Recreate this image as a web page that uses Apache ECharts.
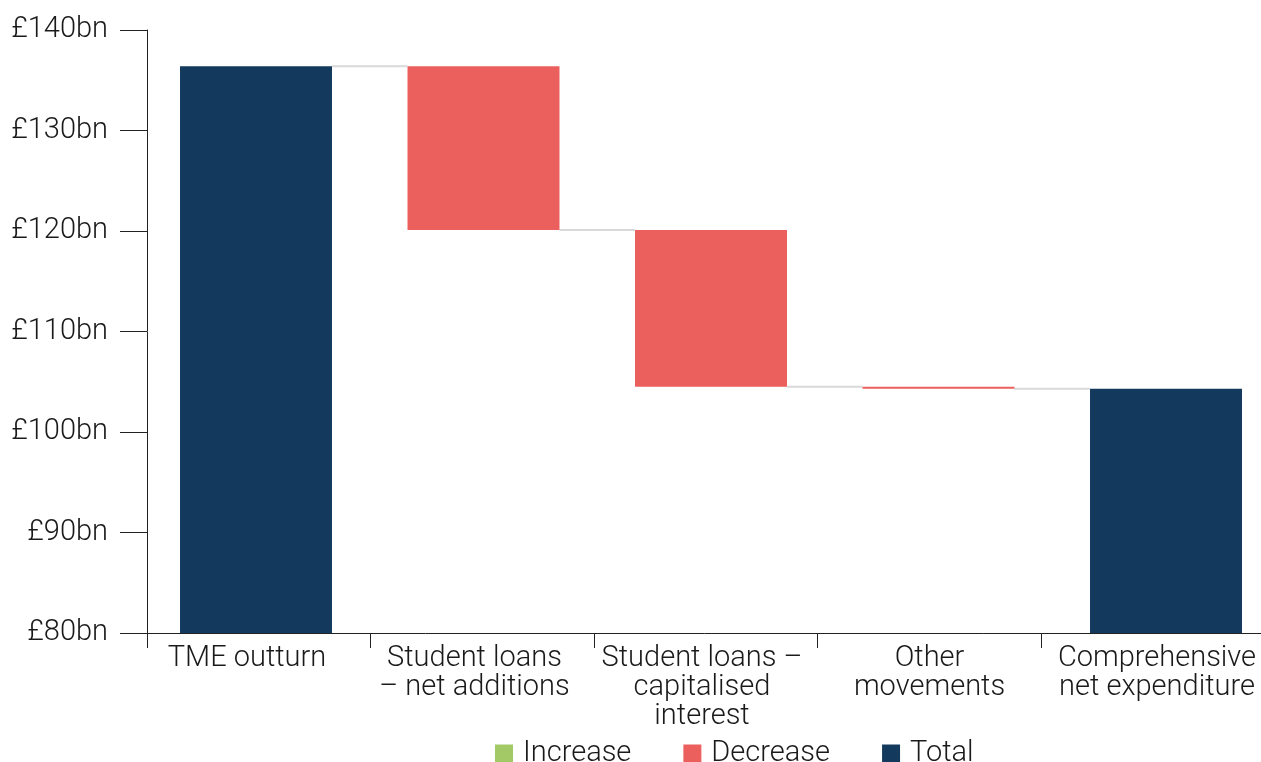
<!DOCTYPE html>
<html>
<head>
<meta charset="utf-8">
<script src="https://cdn.jsdelivr.net/npm/echarts@6/dist/echarts.min.js"></script>
<style>
  html, body { margin: 0; padding: 0; background: #ffffff; }
  #chart { width: 1261px; height: 762px; }
</style>
</head>
<body>
<div id="chart"></div>
<script>
// Reconciliation of Total Managed Expenditure to comprehensive net expenditure (£bn)
const categories = [
  'TME outturn',
  'Student loans\n– net additions',
  'Student loans –\ncapitalised\ninterest',
  'Other\nmovements',
  'Comprehensive\nnet expenditure'
];
// Totals are absolute levels, other entries are changes from the previous level
const amounts = [136.4, -16.3, -15.6, -0.2, 104.3];
const isTotal = [true, false, false, false, true];

const yMin = 80;
const yMax = 140;
const yStep = 10;

const NAVY = '#133a5d';
const RED = '#eb5f5d';
const GREEN = '#a3c866';
const FONT = 'Roboto';
const WEIGHT = 300;
const FS = 29;
const BAR_RATIO = 0.668;

// Stacked pieces of the waterfall: transparent base + visible change / total
const baseData = [], incData = [], decData = [], totData = [], levels = [];
let running = 0;
amounts.forEach((v, i) => {
  if (isTotal[i]) {
    running = v;
    baseData.push('-'); incData.push('-'); decData.push('-'); totData.push(v);
  } else {
    const next = +(running + v).toFixed(4);
    baseData.push(Math.min(running, next));
    if (v >= 0) { incData.push(Math.abs(v)); decData.push('-'); }
    else { decData.push(Math.abs(v)); incData.push('-'); }
    totData.push('-');
    running = next;
  }
  levels.push(running);
});
// Connector levels between consecutive bars
const connectors = levels.slice(0, -1).map((lv, i) => [i, lv]);

const chart = echarts.init(document.getElementById('chart'), null, { renderer: 'canvas' });

chart.setOption({
  animation: false,
  backgroundColor: '#ffffff',
  textStyle: { fontFamily: FONT, fontWeight: WEIGHT },
  grid: [
    { left: 142.25, width: 1137.5, top: 30, height: 603, outerBoundsMode: 'none', containLabel: false },
    { left: 147, width: 1117.5, top: 30, height: 603, outerBoundsMode: 'none', containLabel: false }
  ],
  legend: {
    data: ['Increase', 'Decrease', 'Total'],
    left: 490,
    top: 734,
    icon: 'rect',
    itemWidth: 18,
    itemHeight: 18,
    itemGap: 52,
    textStyle: { fontFamily: FONT, fontWeight: WEIGHT, fontSize: FS, color: '#1a1a1a', padding: [0, 0, 0, 5] },
    selectedMode: false
  },
  xAxis: [
    {
      type: 'category', gridIndex: 0, data: categories,
      axisLine: { show: false },
      axisTick: { show: false },
      axisLabel: {
        fontFamily: FONT, fontWeight: WEIGHT, fontSize: FS, lineHeight: 29, color: '#1a1a1a',
        margin: 11, interval: 0, padding: [0, 18, 0, 0], hideOverlap: false
      }
    },
    {
      type: 'category', gridIndex: 1, data: categories,
      axisLine: { lineStyle: { color: '#222', width: 1 } },
      axisTick: { show: true, length: 15, lineStyle: { color: '#222' } },
      axisLabel: { show: false }
    }
  ],
  yAxis: [
    { type: 'value', gridIndex: 0, min: yMin, max: yMax, interval: yStep, show: false },
    {
      type: 'value', gridIndex: 1, min: yMin, max: yMax, interval: yStep,
      axisLine: { show: true, lineStyle: { color: '#222', width: 1 } },
      axisTick: { show: true, length: 27, lineStyle: { color: '#222' } },
      splitLine: { show: false },
      axisLabel: {
        fontFamily: FONT, fontWeight: WEIGHT, fontSize: FS, color: '#1a1a1a', margin: 39,
        padding: [0, 0, 3, 0],
        formatter: '£{value}bn'
      }
    }
  ],
  series: [
    {
      name: 'base', type: 'bar', stack: 'w', xAxisIndex: 0, yAxisIndex: 0,
      barWidth: (BAR_RATIO * 100) + '%',
      itemStyle: { color: 'transparent' },
      emphasis: { disabled: true },
      data: baseData
    },
    {
      name: 'Increase', type: 'bar', stack: 'w', xAxisIndex: 0, yAxisIndex: 0,
      itemStyle: { color: GREEN }, data: incData
    },
    {
      name: 'Decrease', type: 'bar', stack: 'w', xAxisIndex: 0, yAxisIndex: 0,
      itemStyle: { color: RED }, data: decData
    },
    {
      name: 'Total', type: 'bar', stack: 'w', xAxisIndex: 0, yAxisIndex: 0,
      itemStyle: { color: NAVY }, data: totData
    },
    {
      name: 'connectors', type: 'custom', xAxisIndex: 0, yAxisIndex: 0,
      silent: true, z: 1,
      encode: { x: 0, y: 1 },
      data: connectors,
      renderItem: function (params, api) {
        const i = api.value(0);
        const lv = api.value(1);
        const a = api.coord([i, lv]);
        const b = api.coord([i + 1, lv]);
        const half = api.size([1, 0])[0] * BAR_RATIO / 2;
        return {
          type: 'line',
          shape: { x1: a[0] + half, y1: a[1], x2: b[0] - half, y2: b[1] },
          style: { stroke: '#d9d9d9', lineWidth: 2 }
        };
      }
    }
  ]
});
</script>
</body>
</html>
